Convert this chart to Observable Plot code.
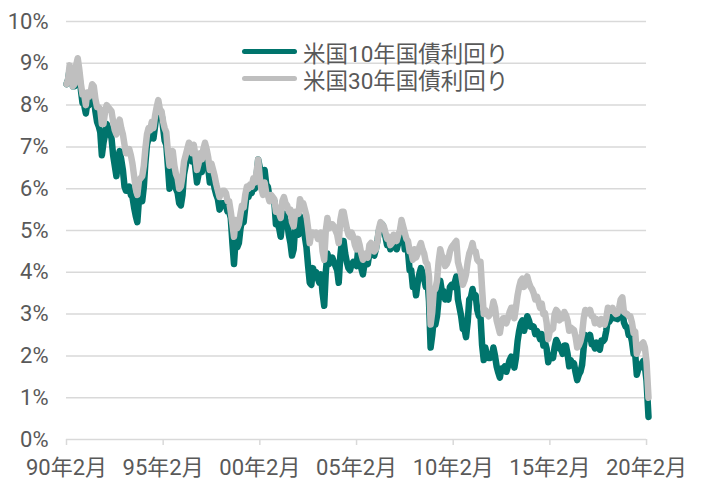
<!DOCTYPE html>
<html>
<head>
<meta charset="utf-8">
<script src="https://cdn.jsdelivr.net/npm/d3@7"></script>
<script src="https://cdn.jsdelivr.net/npm/@observablehq/plot@0.6"></script>
<style>
  body { margin: 0; background: #fff; }
  #wrap { position: relative; width: 701px; height: 481px; font-family: Roboto, "Noto Sans CJK JP", sans-serif; }
  .lg { position: absolute; left: 242px; height: 27px; display: flex; align-items: center; font-size: 22.5px; color: #595959; white-space: nowrap; }
  .sw { width: 55px; height: 5px; border-radius: 3px; margin-right: 6px; }
</style>
</head>
<body>
<div id="wrap"></div>
<script>
// Series names and colours
const seriesNames = ["米国10年国債利回り", "米国30年国債利回り"];
const seriesColors = ["#00746c", "#bfbfbf"];

// Dates: monthly from 1990-02 to 2020-02, then the last observation
const firstMonth = "1990-02-01";
const lastMonth = "2020-02-01";
const lastDate = "2020-03-09";

// Tick labels (x) and y ticks (%)
const xTickYears = [1990, 1995, 2000, 2005, 2010, 2015, 2020];
const yTicks = [0, 1, 2, 3, 4, 5, 6, 7, 8, 9, 10];

// US 10-year yield (%), monthly, 1990-02 .. 1999-12
const y10_1990s = [
  8.50, 8.60, 8.85, 8.75, 8.45, 8.45, 8.85, 8.95, 8.70, 8.35, 8.05,
  8.00, 7.80, 8.05, 8.00, 8.05, 8.30, 8.20, 7.85, 7.60, 7.50, 7.35, 6.80,
  7.10, 7.30, 7.55, 7.45, 7.35, 7.20, 6.80, 6.55, 6.30, 6.70, 6.90, 6.70,
  6.45, 6.05, 5.95, 5.95, 6.05, 5.85, 5.80, 5.55, 5.35, 5.20, 5.75, 5.80,
  5.70, 6.05, 6.60, 7.05, 7.20, 7.20, 7.35, 7.20, 7.50, 7.80, 8.00, 7.80,
  7.80, 7.45, 7.15, 7.05, 6.55, 6.00, 6.35, 6.50, 6.15, 6.00, 5.90, 5.65,
  5.60, 5.85, 6.35, 6.55, 6.80, 6.95, 6.90, 6.65, 6.85, 6.50, 6.15, 6.35,
  6.60, 6.40, 6.75, 6.90, 6.70, 6.50, 6.15, 6.35, 6.20, 6.00, 5.85, 5.75,
  5.50, 5.60, 5.65, 5.65, 5.60, 5.45, 5.45, 5.30, 4.70, 4.20, 4.80, 4.60,
  4.70, 5.05, 5.25, 5.20, 5.55, 5.90, 5.80, 5.95, 5.90, 6.10, 6.00, 6.30
];
// 2000-01 .. 2009-12
const y10_2000s = [
  6.70, 6.50, 6.20, 5.95, 6.45, 6.10, 6.05, 5.80, 5.80, 5.75, 5.70, 5.15,
  5.15, 5.05, 4.85, 5.20, 5.40, 5.25, 5.20, 4.90, 4.70, 4.40, 4.55, 5.10,
  5.05, 4.90, 5.35, 5.20, 5.15, 4.85, 4.60, 4.15, 3.75, 3.70, 4.10, 3.95,
  4.00, 3.85, 3.75, 3.95, 3.50, 3.20, 4.00, 4.45, 4.20, 4.30, 4.35, 4.25,
  4.15, 4.05, 3.75, 4.40, 4.75, 4.75, 4.45, 4.25, 4.10, 4.05, 4.20, 4.25,
  4.20, 4.15, 4.50, 4.30, 4.10, 3.95, 4.20, 4.25, 4.20, 4.45, 4.55, 4.45,
  4.40, 4.55, 4.75, 5.00, 5.10, 5.15, 5.05, 4.85, 4.65, 4.75, 4.55, 4.60,
  4.80, 4.70, 4.55, 4.70, 4.85, 5.15, 4.95, 4.55, 4.55, 4.50, 4.05, 4.05,
  3.65, 3.75, 3.45, 3.75, 3.95, 4.10, 4.00, 3.85, 3.65, 3.85, 3.30, 2.20,
  2.50, 2.90, 2.75, 2.95, 3.35, 3.80, 3.55, 3.55, 3.35, 3.40, 3.35, 3.65
];
// 2010-01 .. 2019-12
const y10_2010s = [
  3.70, 3.65, 3.75, 3.90, 3.35, 3.15, 2.95, 2.65, 2.65, 2.45, 2.80, 3.35,
  3.40, 3.60, 3.40, 3.45, 3.10, 2.95, 2.95, 2.25, 1.90, 2.20, 2.00, 1.95,
  1.95, 1.98, 2.20, 2.00, 1.75, 1.60, 1.48, 1.70, 1.70, 1.75, 1.62, 1.75,
  1.90, 1.98, 1.95, 1.72, 1.95, 2.35, 2.60, 2.78, 2.85, 2.60, 2.75, 2.95,
  2.85, 2.70, 2.72, 2.70, 2.52, 2.60, 2.52, 2.40, 2.52, 2.25, 2.32, 2.18,
  1.85, 2.00, 2.02, 1.95, 2.20, 2.38, 2.30, 2.18, 2.15, 2.05, 2.25, 2.25,
  2.05, 1.75, 1.90, 1.80, 1.82, 1.60, 1.42, 1.55, 1.62, 1.78, 2.20, 2.50,
  2.45, 2.42, 2.50, 2.28, 2.28, 2.18, 2.32, 2.20, 2.15, 2.37, 2.35, 2.40,
  2.60, 2.88, 2.82, 2.90, 3.00, 2.90, 2.90, 2.88, 3.02, 3.18, 3.10, 2.80,
  2.70, 2.68, 2.50, 2.52, 2.35, 2.05, 2.05, 1.55, 1.70, 1.72, 1.82, 1.88
];
// 2020-01, 2020-02, 2020-03-09
const y10_2020 = [1.75, 1.40, 0.54];

// US 30-year yield (%), monthly, 1990-02 .. 1999-12
const y30_1990s = [
  8.50, 8.60, 8.95, 8.75, 8.45, 8.50, 8.95, 9.12, 8.85, 8.50, 8.25,
  8.25, 8.00, 8.30, 8.20, 8.30, 8.50, 8.45, 8.15, 7.95, 7.95, 7.90, 7.55,
  7.55, 7.85, 8.00, 7.95, 7.90, 7.85, 7.60, 7.40, 7.30, 7.55, 7.65, 7.45,
  7.30, 7.05, 6.85, 6.85, 6.95, 6.80, 6.60, 6.30, 6.00, 5.85, 6.20, 6.25,
  6.30, 6.55, 6.95, 7.30, 7.45, 7.40, 7.60, 7.45, 7.75, 7.95, 8.12, 7.90,
  7.85, 7.60, 7.45, 7.35, 6.90, 6.55, 6.75, 6.90, 6.55, 6.35, 6.25, 6.00,
  6.05, 6.30, 6.65, 6.80, 6.95, 7.10, 7.05, 6.85, 7.05, 6.80, 6.45, 6.60,
  6.85, 6.70, 6.95, 7.10, 6.95, 6.75, 6.45, 6.60, 6.45, 6.30, 6.10, 5.95,
  5.80, 5.90, 5.95, 5.95, 5.90, 5.70, 5.70, 5.45, 5.15, 4.85, 5.25, 5.05,
  5.15, 5.40, 5.60, 5.55, 5.85, 6.05, 6.00, 6.10, 6.05, 6.25, 6.15, 6.40
];
// 2000-01 .. 2009-12
const y30_2000s = [
  6.70, 6.25, 6.00, 5.85, 6.15, 5.90, 5.85, 5.70, 5.85, 5.80, 5.75, 5.45,
  5.55, 5.40, 5.30, 5.70, 5.80, 5.65, 5.60, 5.45, 5.50, 5.20, 5.10, 5.45,
  5.45, 5.40, 5.75, 5.65, 5.65, 5.50, 5.35, 5.05, 4.70, 4.95, 4.95, 4.90,
  4.95, 4.80, 4.85, 4.95, 4.50, 4.30, 5.00, 5.30, 5.05, 5.15, 5.15, 5.10,
  5.00, 4.90, 4.70, 5.25, 5.45, 5.45, 5.25, 5.05, 4.90, 4.85, 4.95, 4.85,
  4.65, 4.55, 4.80, 4.65, 4.45, 4.30, 4.40, 4.45, 4.35, 4.65, 4.70, 4.55,
  4.50, 4.55, 4.75, 5.05, 5.20, 5.15, 5.10, 4.95, 4.80, 4.85, 4.65, 4.70,
  4.90, 4.80, 4.75, 4.90, 5.00, 5.25, 5.10, 4.95, 4.80, 4.75, 4.50, 4.50,
  4.30, 4.55, 4.35, 4.45, 4.60, 4.70, 4.55, 4.45, 4.25, 4.20, 3.90, 2.75,
  3.05, 3.60, 3.60, 3.80, 4.25, 4.55, 4.40, 4.35, 4.15, 4.20, 4.30, 4.50
];
// 2010-01 .. 2019-12
const y30_2010s = [
  4.60, 4.65, 4.70, 4.75, 4.25, 4.10, 3.95, 3.70, 3.80, 3.95, 4.25, 4.45,
  4.55, 4.70, 4.50, 4.50, 4.30, 4.25, 4.25, 3.60, 3.00, 3.10, 3.00, 2.95,
  3.00, 3.10, 3.30, 3.15, 2.85, 2.70, 2.55, 2.80, 2.90, 2.90, 2.78, 2.90,
  3.05, 3.15, 3.15, 2.90, 3.15, 3.45, 3.65, 3.80, 3.85, 3.65, 3.80, 3.90,
  3.75, 3.65, 3.60, 3.50, 3.35, 3.42, 3.30, 3.15, 3.25, 3.00, 3.02, 2.80,
  2.40, 2.60, 2.62, 2.65, 3.00, 3.10, 3.05, 2.85, 2.95, 2.90, 3.05, 2.98,
  2.85, 2.60, 2.68, 2.65, 2.62, 2.45, 2.20, 2.25, 2.35, 2.52, 2.90, 3.10,
  3.02, 3.02, 3.10, 2.95, 2.95, 2.78, 2.88, 2.80, 2.75, 2.88, 2.80, 2.75,
  2.90, 3.15, 3.08, 3.08, 3.15, 3.05, 3.00, 3.02, 3.15, 3.35, 3.40, 3.05,
  3.02, 3.00, 2.95, 2.95, 2.80, 2.55, 2.58, 2.05, 2.15, 2.20, 2.28, 2.32
];
// 2020-01, 2020-02, 2020-03-09
const y30_2020 = [2.20, 1.85, 1.00];

// ---- build tables ----
const parse = d3.utcParse("%Y-%m-%d");
const dates = d3.utcMonth.range(parse(firstMonth), d3.utcMonth.offset(parse(lastMonth), 1));
dates.push(parse(lastDate));

const v10 = [...y10_1990s, ...y10_2000s, ...y10_2010s, ...y10_2020];
const v30 = [...y30_1990s, ...y30_2000s, ...y30_2010s, ...y30_2020];
const rows10 = dates.map((d, i) => ({date: d, value: v10[i]}));
const rows30 = dates.map((d, i) => ({date: d, value: v30[i]}));

const xTicks = xTickYears.map(y => new Date(Date.UTC(y, 1, 1)));
const gridStart = parse(firstMonth);
const gridEnd = parse(lastMonth);
const fmtX = d => `${String(d.getUTCFullYear() % 100).padStart(2, "0")}年${d.getUTCMonth() + 1}月`;

const textColor = "#595959";
const gridColor = "#d9d9d9";

const chart = Plot.plot({
  width: 701,
  height: 481,
  marginLeft: 66,
  marginRight: 53,
  marginTop: 21,
  marginBottom: 42,
  style: {fontFamily: 'Roboto, "Noto Sans CJK JP", sans-serif', fontSize: "22px", background: "#fff", color: textColor, overflow: "visible"},
  x: {type: "utc", domain: [gridStart, parse(lastDate)], label: null},
  y: {domain: [0, 10], label: null},
  marks: [
    Plot.ruleY(yTicks, {y: d => d, x1: () => gridStart, x2: () => gridEnd, stroke: gridColor, strokeWidth: 1.5}),
    Plot.axisY({ticks: yTicks, tickSize: 0, tickPadding: 18, tickFormat: d => d + "%", fill: textColor, fontSize: 22, label: null}),
    Plot.axisX({ticks: xTicks, tickSize: 6, tickPadding: 14, stroke: gridColor, strokeWidth: 1.5, fill: textColor, fontSize: 22, tickFormat: fmtX, label: null}),
    Plot.line(rows10, {x: "date", y: "value", stroke: seriesColors[0], strokeWidth: 6.5, strokeLinejoin: "round", strokeLinecap: "round"}),
    Plot.line(rows30, {x: "date", y: "value", stroke: seriesColors[1], strokeWidth: 6.5, strokeLinejoin: "round", strokeLinecap: "round"})
  ]
});

const wrap = document.getElementById("wrap");
wrap.appendChild(chart);

// legend overlay
const legendTops = [38, 65];
seriesNames.forEach((name, i) => {
  const row = document.createElement("div");
  row.className = "lg";
  row.style.top = legendTops[i] + "px";
  const sw = document.createElement("span");
  sw.className = "sw";
  sw.style.background = seriesColors[i];
  const tx = document.createElement("span");
  tx.textContent = name;
  row.appendChild(sw);
  row.appendChild(tx);
  wrap.appendChild(row);
});
</script>
</body>
</html>
